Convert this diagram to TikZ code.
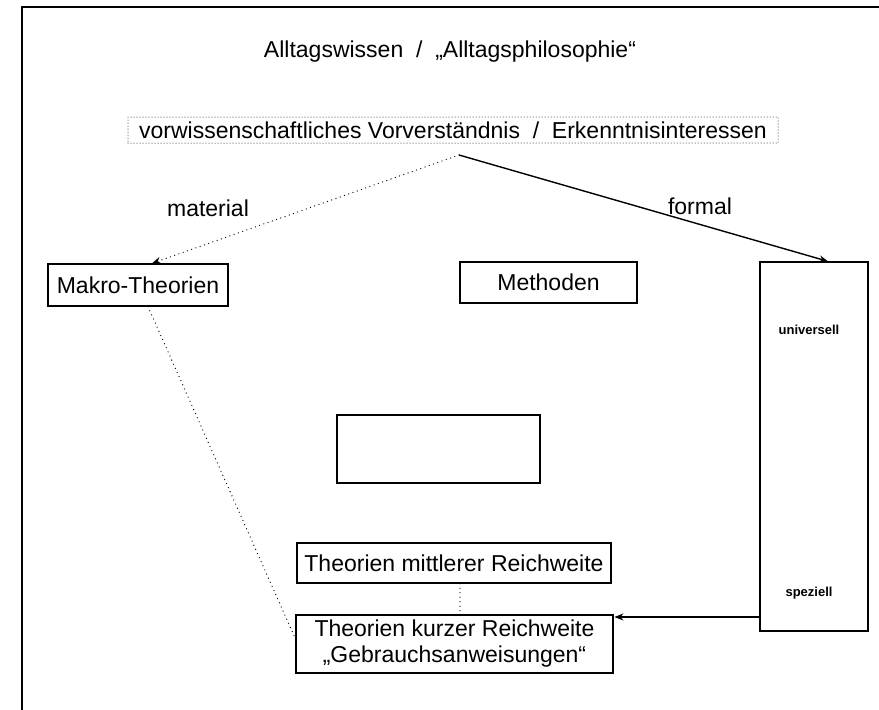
\documentclass[tikz,border=0pt]{standalone}
\usepackage{fontspec}
\setmainfont{Liberation Sans}
\usetikzlibrary{arrows.meta}
\begin{document}
\begin{tikzpicture}[x=1pt,y=-1pt,
  txt/.style={font=\fontsize{23}{26}\selectfont, inner sep=0pt},
  boxn/.style={draw, line width=1.3pt, inner sep=0pt, font=\fontsize{23}{26}\selectfont},
  small/.style={font=\fontsize{13}{15}\selectfont\bfseries, inner sep=0pt},
  arr/.style={-{Stealth[length=9pt,width=7pt]}, line width=1.4pt},
  dotl/.style={line width=1.3pt, line cap=round, dash pattern=on 0pt off 4.5pt},
  dotbox/.style={line width=1pt, line cap=round, dash pattern=on 0pt off 3pt}
]
\useasboundingbox (0,0) rectangle (879,710);
\fill[white] (0,0) rectangle (879,710);
% frame
\draw[line width=1.4pt] (22,710) -- (22,7) -- (879,7);

\node[txt] (title) at (450,52) {Alltagswissen \ / \ „Alltagsphilosophie“};

\node[draw, dotbox, minimum width=650pt, minimum height=26pt, inner sep=0pt,
  font=\fontsize{23}{26}\selectfont] (vor) at (453,130)
  {vorwissenschaftliches Vorverständnis \ / \ Erkenntnisinteressen};
\coordinate (src) at (459,155);

\node[boxn, minimum width=180pt, minimum height=42pt] (makro) at (138,285) {Makro-Theorien};
\node[boxn, minimum width=177pt, minimum height=41pt] (meth) at (548.5,282.5) {Methoden};
\node[boxn, minimum width=108pt, minimum height=369pt] (tall) at (814,446.5) {};
\node[small] (univ) at (809,330) {universell};
\node[small] (spez) at (809,593) {speziell};
\node[boxn, minimum width=203pt, minimum height=68pt] (empty) at (438.5,449) {};
\node[boxn, minimum width=314pt, minimum height=40pt] (mitt) at (454,563) {Theorien mittlerer Reichweite};
\node[draw, line width=2.8pt, minimum width=317pt, minimum height=58pt, inner sep=0pt,
  align=center, font=\fontsize{23}{26}\selectfont] (kurz) at (454.5,644)
  {Theorien kurzer Reichweite\\„Gebrauchsanweisungen“};

\node[txt] (mat) at (208,208) {material};
\node[txt] (form) at (700,206) {formal};

\draw[arr, dotl, -{Stealth[length=9pt,width=7pt]}] (src) -- (makro.north -| 152,0);
\draw[arr] (src) -- (tall.north -| 828,0);
\draw[dotl] (makro.south -| 148,0) -- (kurz.west |- 0,637);
\draw[dotl] (mitt.south -| 460,0) -- (kurz.north -| 460,0);
\draw[arr, line width=1.2pt] (tall.west |- 0,617) -- (kurz.east |- 0,617);
\end{tikzpicture}
\end{document}
